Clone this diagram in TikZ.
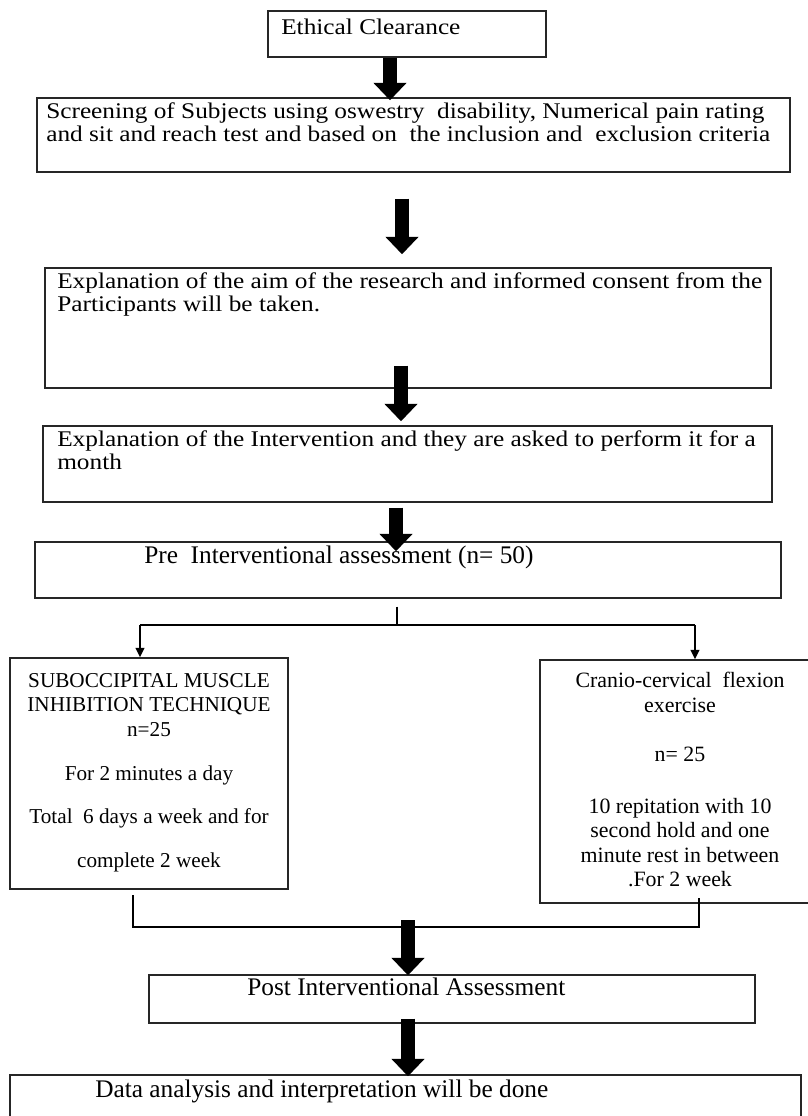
\documentclass[tikz,border=0pt]{standalone}
\usepackage{fontspec}
\setmainfont{Liberation Serif}
\newfontfamily\widefont[FakeStretch=1.13]{Liberation Serif}
\usetikzlibrary{positioning, arrows.meta, fit, calc}

\begin{document}
\begin{tikzpicture}[
  x=0.75pt, y=-0.75pt,
  box/.style={draw=black!85, line width=1.1pt, inner sep=0pt},
  toptxt/.style={anchor=north west, inner sep=0pt, align=left, font=\widefont\fontsize{16.8}{17.25}\selectfont},
  midtxt/.style={anchor=north west, inner sep=0pt, font=\fontsize{19}{22}\selectfont},
  sidetxt/.style={anchor=north, inner sep=0pt, align=center, font=\fontsize{16.4}{18.5}\selectfont},
  bigarrow/.style={line width=10pt, -{Triangle[length=13pt, width=24pt]}},
  smallarrow/.style={line width=1.5pt, -{Triangle[length=7pt, width=6.5pt]}},
  joinline/.style={line width=1.6pt},
]
\fill[white] (0,0) rectangle (807,1116);
\useasboundingbox (0,0) rectangle (807,1116);

% main column
\node[box, fit={(268,11) (546,57)}] (ethical) {};
\node[box, fit={(37,98) (790,172)}] (screen) {};
\node[box, fit={(45,268) (771,388)}] (aim) {};
\node[box, fit={(43,426) (772,502)}] (intv) {};
\node[box, fit={(35,542) (781,598)}] (pre) {};

\node[toptxt] (ethicalt) at (281,19) {Ethical Clearance};
\node[toptxt] (screent) at (46,102)
  {Screening of Subjects using oswestry~ disability, Numerical pain rating\\
   and sit and reach test and based on~ the inclusion and~ exclusion criteria};
\node[toptxt] (aimt) at (57,272)
  {Explanation of the aim of the research and informed consent from the\\
   Participants will be taken.};
\node[toptxt] (intvt) at (57,430)
  {Explanation of the Intervention and they are asked to perform it for a\\
   month};
\node[midtxt] (pret) at (144,546) {Pre~ Interventional assessment (n= 50)};

\draw[bigarrow] ($(ethical.south)+(-17,0)$) -- ($(ethical.south |- screen.north)+(-17,3)$);
\draw[bigarrow] ($(screen.south)+(-11.5,26)$) -- ($(screen.south |- aim.north)+(-11.5,-13)$);
\draw[bigarrow] ($(aim.south)+(-7,-23)$) -- ($(aim.south |- intv.north)+(-7,-4)$);
\draw[bigarrow] ($(intv.south)+(-11.5,5)$) -- ($(intv.south |- pre.north)+(-11.5,10)$);

% two groups
\node[box, fit={(10,658) (288,889)}] (smit) {};
\node[box, fit={(540,660) (822,903)}] (ccfe) {};

\node[sidetxt, font=\fontsize{15.9}{18.5}\selectfont] (smitt) at (149,673)
  {SUBOCCIPITAL MUSCLE\\
   INHIBITION TECHNIQUE\\
   n=25\\[14.5pt]
   For 2 minutes a day\\[13.8pt]
   Total~~6 days a week and for\\[14.5pt]
   complete 2 week};
\node[sidetxt] (ccfet) at (680,672)
  {Cranio-cervical~ flexion\\
   exercise\\[18.2pt]
   n= 25\\[20.5pt]
   10 repitation with 10\\
   second hold and one\\
   minute rest in between\\[-0.5pt]
   .For 2 week};

\coordinate (tick) at ($(pre.south)+(-11,8)$);
\coordinate (split) at ($(pre.south)+(-11,27)$);
\coordinate (jl) at (140,625);
\coordinate (jr) at (695,625);
\draw[line width=1.2pt] (tick) -- (split);
\draw[joinline] (jl) -- (jr);
\draw[smallarrow] (jl) -- (jl |- smit.north);
\draw[smallarrow] (jr) -- (jr |- ccfe.north);

\coordinate (ml) at (133,895);
\coordinate (mr) at (699,898);
\coordinate (bl) at (133,927);
\coordinate (br) at (699,927);
\draw[joinline] (ml) -- (bl) -- (br) -- (mr);

% end
\node[box, fit={(149,975) (755,1023)}] (post) {};
\node[box, fit={(10,1075) (801,1135)}] (data) {};
\node[midtxt] (postt) at (247,978) {Post Interventional Assessment};
\node[midtxt] (datat) at (95,1080) {Data analysis and interpretation will be done};

\coordinate (m5) at (408,920);
\draw[bigarrow] (m5) -- ($(m5 |- post.north)+(0,1)$);
\draw[bigarrow] ($(post.south)+(-44,-5)$) -- ($(post.south |- data.north)+(-44,2)$);
\end{tikzpicture}
\end{document}
